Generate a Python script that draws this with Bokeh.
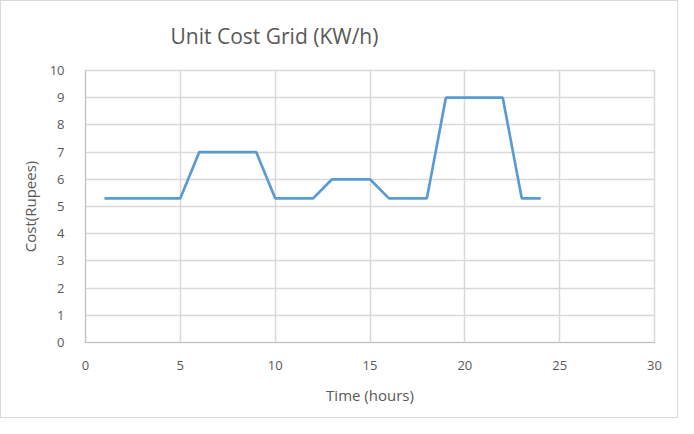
from bokeh.plotting import figure
from bokeh.embed import file_html
from bokeh.resources import INLINE
from bokeh.models import Range1d, FixedTicker, Title

hours = [1, 2, 3, 4, 5, 6, 7, 8, 9, 10, 11, 12, 13, 14, 15, 16, 17, 18, 19, 20, 21, 22, 23, 24]
cost = [5.3, 5.3, 5.3, 5.3, 5.3, 7, 7, 7, 7, 5.3, 5.3, 5.3, 6, 6, 6, 5.3, 5.3, 5.3, 9, 9, 9, 9, 5.3, 5.3]
x_ticks = [0, 5, 10, 15, 20, 25, 30]
y_ticks = [0, 1, 2, 3, 4, 5, 6, 7, 8, 9, 10]

GRAY_TXT = "#595959"
GRID = "#d9d9d9"
FONT = "Open Sans"

p = figure(width=678, height=418, output_backend="svg", toolbar_location=None,
           x_range=Range1d(0, 30), y_range=Range1d(0, 10),
           min_border_left=84, min_border_right=25, min_border_top=69, min_border_bottom=77)

p.title = Title(text="Unit Cost Grid (KW/h)", align="left", offset=85,
                text_font=FONT, text_font_size="21px", text_color=GRAY_TXT,
                text_font_style="normal", standoff=38, vertical_align="top")

p.line(hours, cost, line_color="#5B9BD5", line_width=2.7)

for ax in (p.xaxis[0], p.yaxis[0]):
    ax.major_tick_line_color = None
    ax.minor_tick_line_color = None
    ax.axis_line_color = "#bfbfbf"
    ax.major_label_text_color = GRAY_TXT
    ax.major_label_text_font = FONT
    ax.major_label_text_font_size = "13px"
    ax.axis_label_text_color = GRAY_TXT
    ax.axis_label_text_font = FONT
    ax.axis_label_text_font_size = "15px"
    ax.axis_label_text_font_style = "normal"

p.xaxis.ticker = FixedTicker(ticks=x_ticks)
p.yaxis.ticker = FixedTicker(ticks=y_ticks)
p.xaxis.axis_label = "Time (hours)"
p.yaxis.axis_label = "Cost(Rupees)"
p.xaxis.major_label_standoff = 12
p.yaxis.major_label_standoff = 15
p.xaxis.axis_label_standoff = 12
p.yaxis.axis_label_standoff = 7

p.xgrid.ticker = FixedTicker(ticks=x_ticks)
p.ygrid.ticker = FixedTicker(ticks=y_ticks)
p.grid.grid_line_color = GRID
p.grid.grid_line_width = 1.5
p.outline_line_color = GRID
p.outline_line_width = 1.5
p.styles = {"border": "1px solid #d9d9d9"}

open("out.html", "w").write(file_html(p, INLINE))
